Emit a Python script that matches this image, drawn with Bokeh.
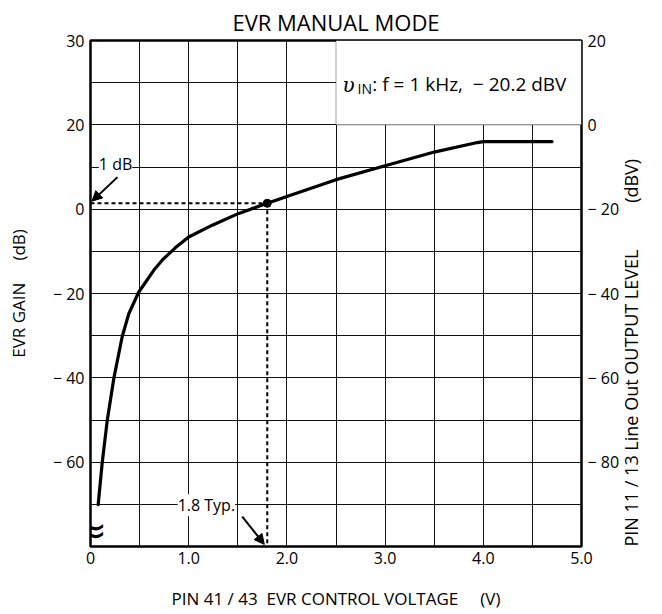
import math
from bokeh.plotting import figure
from bokeh.models import (Range1d, LinearAxis, FixedTicker, Label, Arrow,
                          NormalHead, BoxAnnotation)
from bokeh.embed import file_html
from bokeh.resources import INLINE

FONT = "Open Sans"
NB = "\u00a0"

# ---- data ----
voltage = [0.078, 0.119, 0.17, 0.237, 0.323, 0.39, 0.49, 0.644, 0.73, 0.866,
           1.0, 1.24, 1.51, 1.8, 2.0, 2.5, 3.0, 3.51, 3.94, 4.0, 4.7]
gain = [-70.1, -60.2, -50.2, -40.2, -30.2, -24.8, -19.7, -14.5, -12.1, -9.1,
        -6.6, -3.8, -1.0, 1.4, 3.0, 7.0, 10.3, 13.6, 15.8, 16.0, 16.0]

typ_voltage = 1.8
typ_gain = 1.4

x_ticks = [0, 1, 2, 3, 4, 5]
x_tick_labels = ["0", "1.0", "2.0", "3.0", "4.0", "5.0"]
left_ticks = [40, 20, 0, -20, -40, -60]
left_tick_labels = ["30", "20", "0", "\u2212 20", "\u2212 40", "\u2212 60"]
right_ticks = [20, 0, -20, -40, -60, -80]
right_tick_labels = ["20", "0", "\u2212 20", "\u2212 40", "\u2212 60", "\u2212 80"]
x_grid = [0.5, 1.0, 1.5, 2.0, 2.5, 3.0, 3.5, 4.0, 4.5]
y_grid = [30, 20, 10, 0, -10, -20, -30, -40, -50, -60, -70]

p = figure(width=662, height=614, x_range=Range1d(0, 5), y_range=Range1d(-80, 40),
           output_backend="svg", toolbar_location=None,
           min_border_left=90, min_border_right=81, min_border_top=40,
           min_border_bottom=68)
p.extra_y_ranges = {"out": Range1d(-100, 20)}

p.title.text = "EVR MANUAL MODE"
p.title.align = "center"
p.title.text_font = FONT
p.title.text_font_size = "22px"
p.title.text_font_style = "normal"
p.title.text_color = "black"
p.title.standoff = 7

p.outline_line_color = "black"
p.outline_line_width = 2.5
p.background_fill_color = "white"
p.border_fill_color = "white"

p.xgrid.ticker = FixedTicker(ticks=x_grid)
p.ygrid.ticker = FixedTicker(ticks=y_grid)
for g in (p.xgrid, p.ygrid):
    g.grid_line_color = "#111111"
    g.grid_line_width = 1
    g.grid_line_alpha = 1

def style_axis(ax, standoff_lab, label_standoff, label_size="17px"):
    ax.major_tick_in = 0
    ax.major_tick_out = 0
    ax.minor_tick_in = 0
    ax.minor_tick_out = 0
    ax.axis_line_color = None
    ax.major_label_text_font = FONT
    ax.major_label_text_font_size = "16px"
    ax.major_label_text_color = "black"
    ax.major_label_standoff = standoff_lab
    ax.axis_label_text_font = FONT
    ax.axis_label_text_font_size = label_size
    ax.axis_label_text_font_style = "normal"
    ax.axis_label_text_color = "black"
    ax.axis_label_standoff = label_standoff

xa = p.xaxis[0]
xa.ticker = FixedTicker(ticks=x_ticks)
xa.major_label_overrides = {t: s for t, s in zip(x_ticks, x_tick_labels)}
xa.axis_label = "PIN" + NB + "41" + NB + "/" + NB + "43" + NB * 2 + "EVR CONTROL VOLTAGE" + NB * 5 + "(V)"
style_axis(xa, 5, 20)

ya = p.yaxis[0]
ya.ticker = FixedTicker(ticks=left_ticks)
ya.major_label_overrides = {t: s for t, s in zip(left_ticks, left_tick_labels)}
ya.axis_label = "EVR GAIN" + NB * 5 + "(dB)"
style_axis(ya, 6, 20)

ra = LinearAxis(y_range_name="out", ticker=FixedTicker(ticks=right_ticks))
ra.major_label_overrides = {t: s for t, s in zip(right_ticks, right_tick_labels)}
ra.axis_label = "PIN 11 / 13 Line Out OUTPUT LEVEL" + NB * 10 + "(dBV)"
style_axis(ra, 6, 9, "18px")
ra.axis_label_orientation = math.pi / 2
ra.axis_label_align = "start"
p.add_layout(ra, "right")

# condition box at top right
p.add_layout(BoxAnnotation(left=2.5, right=5, bottom=20, top=40,
                           fill_color="white", fill_alpha=1,
                           line_color="black", line_width=1.2))

p.add_layout(Label(x=2.566, y=29.4, text="\u03c5", text_font="DejaVu Serif",
                   text_font_style="italic", text_font_size="20px",
                   text_baseline="alphabetic", text_color="black"))
p.add_layout(Label(x=2.72, y=28.6, text="IN", text_font=FONT,
                   text_font_size="14px", text_baseline="alphabetic",
                   text_color="black"))
p.add_layout(Label(x=2.87, y=29.6,
                   text=":" + NB + "f" + NB + "=" + NB + "1" + NB + "kHz," + NB * 2
                        + "\u2212" + NB + "20.2" + NB + "dBV",
                   text_font=FONT, text_font_size="19px",
                   text_baseline="alphabetic", text_color="black"))

# typical point guides
p.line([0, typ_voltage], [typ_gain, typ_gain], line_color="black",
       line_width=2, line_dash="4 3")
p.line([typ_voltage, typ_voltage], [typ_gain, -80], line_color="black",
       line_width=2, line_dash="4 3")

# main curve
p.line(voltage, gain, line_color="black", line_width=3.2, line_join="round",
       line_cap="round")
p.scatter([typ_voltage], [typ_gain], size=8, color="black")

# annotations
p.add_layout(Label(x=0.255, y=10.8, text="1" + NB + "dB", text_font=FONT,
                   text_font_size="16px", text_align="center",
                   text_baseline="middle", background_fill_color="white",
                   text_color="black"))
p.add_layout(Arrow(end=NormalHead(size=10, fill_color="black", line_color="black"),
                   x_start=0.275, y_start=7.6, x_end=0.015, y_end=1.9,
                   line_width=2, line_color="black"))

p.add_layout(Label(x=1.18, y=-70.2, text="1.8" + NB + "Typ.", text_font=FONT,
                   text_font_size="16px", text_align="center",
                   text_baseline="middle", background_fill_color="white",
                   text_color="black"))
p.add_layout(Arrow(end=NormalHead(size=10, fill_color="black", line_color="black"),
                   x_start=1.545, y_start=-72.9, x_end=1.77, y_end=-79.5,
                   line_width=2, line_color="black"))

# axis break mark on the left axis line
p.add_layout(Label(x=0, y=-76, text="\u2248", text_font="DejaVu Sans",
                   text_font_size="40px", text_align="center",
                   text_baseline="middle", text_color="black"))

open("out.html", "w").write(file_html(p, INLINE))
